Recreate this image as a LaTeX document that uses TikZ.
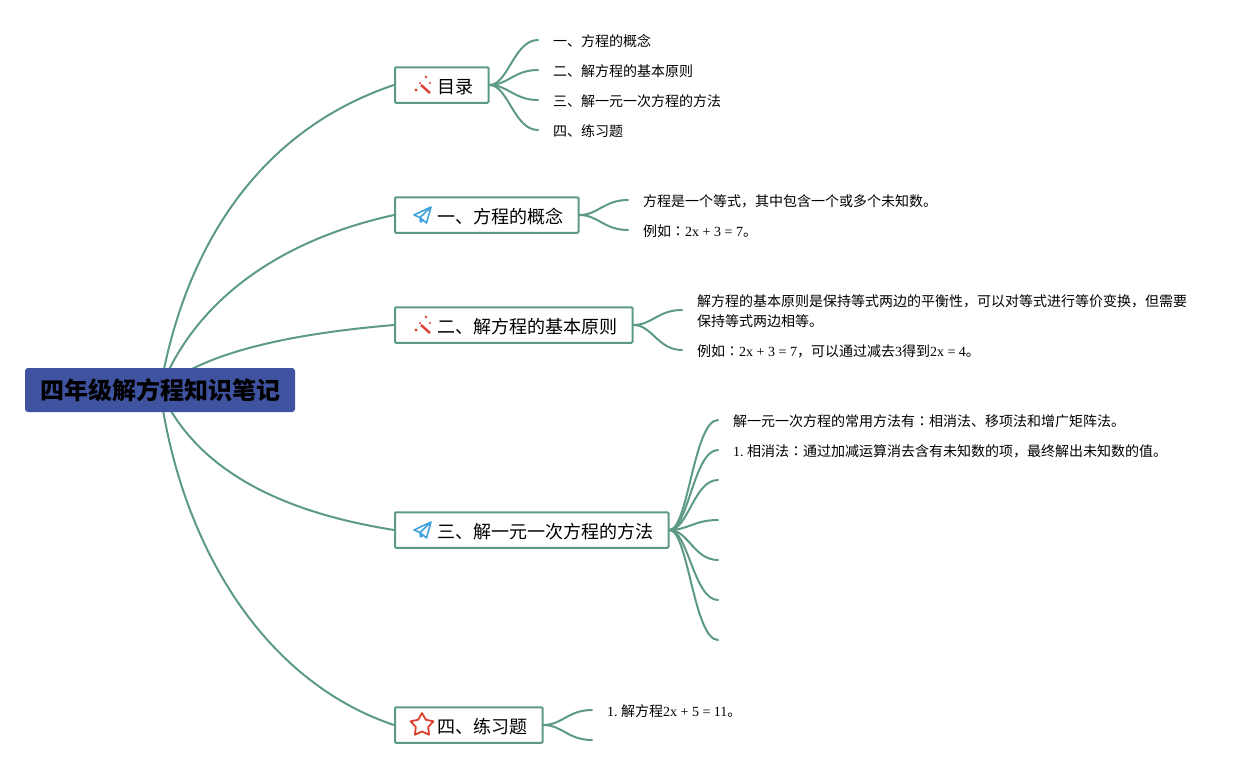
\documentclass[tikz,border=0pt]{standalone}
\usepackage{fontspec}
\setmainfont{Liberation Serif}
\newfontfamily\cjk{Noto Sans CJK SC}
\newfontfamily\cjktc{Noto Sans CJK TC}
\usetikzlibrary{backgrounds}
\definecolor{linegreen}{HTML}{5C9A86}
\definecolor{rootblue}{HTML}{3F53A0}
\definecolor{iconred}{HTML}{DC3E2E}
\definecolor{iconblue}{HTML}{3FA2DC}
\tikzset{
  branchline/.style={linegreen, line width=2pt, line cap=round},
  rootbox/.style={fill=rootblue, rounded corners=3pt, minimum width=270pt, minimum height=44pt, font=\fontsize{24}{24}\cjk\bfseries, inner sep=0pt},
  topicbox/.style={draw=linegreen, fill=white, line width=2pt, rounded corners=1pt, minimum height=35.5pt, anchor=west, inner sep=0pt},
  topictext/.style={font=\fontsize{18}{18}\cjk, anchor=west, inner sep=0pt, text height=14pt, text depth=2pt},
  leaftext/.style={anchor=west, font=\fontsize{14}{20}\selectfont, inner sep=0pt, align=left},
  wandicon/.pic={
    \draw[iconred, line width=2.4pt] (-2,-1) -- (7,7);
    \fill[iconred] (-7,4) circle (1.7pt) (3,-9) circle (1.4pt) (-3,-3) circle (1.2pt) (7,-3) circle (1.2pt);
  },
  planeicon/.pic={
    \draw[iconblue, line width=1.6pt, line join=round] (8,-8) -- (-9,0) -- (-3,2.5) -- (8,-8) -- (3.5,8) -- (-3,2.5) -- (-2.5,7) -- (.5,5);
  },
  staricon/.pic={
    \draw[iconred, line width=1.8pt, line join=round] (0,-12) -- (3.8,-5.3) -- (11.4,-3.7) -- (6.2,2) -- (7.05,9.7) -- (0,6.5) -- (-7.05,9.7) -- (-6.2,2) -- (-11.4,-3.7) -- (-3.8,-5.3) -- cycle;
  },
}
\newcommand{\zh}[1]{{\cjk #1}}
\begin{document}
\begin{tikzpicture}[x=1pt, y=-1pt]
  \useasboundingbox (0,0) rectangle (1257,768);

  % Root and the five topics
  \node[rootbox] (root) at (160,390) {\raisebox{-1.5pt}{四年级解方程知识笔记}};
  \node[topicbox, minimum width=93.5pt] (mulu) at (394,85) {};
  \node[topicbox, minimum width=183.5pt] (gainian) at (394,215) {};
  \node[topicbox, minimum width=237.5pt] (yuanze) at (394,325) {};
  \node[topicbox, minimum width=273.5pt] (fangfa) at (394,530) {};
  \node[topicbox, minimum width=147.5pt] (lianxi) at (394,725) {};

  % Topic titles and their icons
  \node[topictext] (mulutext) at (437,87) {目录};
  \node[topictext] (gainiantext) at (437,217) {一、方程的概念};
  \node[topictext] (yuanzetext) at (437,327) {二、解方程的基本原则};
  \node[topictext] (fangfatext) at (437,532) {三、解一元一次方程的方法};
  \node[topictext] (lianxitext) at (437,727) {四、练习题};
  \pic at (423,86) {wandicon};
  \pic at (423,215) {planeicon};
  \pic at (423,326) {wandicon};
  \pic at (423,530) {planeicon};
  \pic at (422,725) {staricon};

  % Leaf texts
  \node[leaftext] (m1) at (553,41) {\zh{一、方程的概念}};
  \node[leaftext] (m2) at (553,71) {\zh{二、解方程的基本原则}};
  \node[leaftext] (m3) at (553,101) {\zh{三、解一元一次方程的方法}};
  \node[leaftext] (m4) at (553,131) {\zh{四、练习题}};
  \node[leaftext] (g1) at (643,201) {\zh{方程是一个等式，其中包含一个或多个未知数。}};
  \node[leaftext] (g2) at (643,231) {\zh{例如}{\cjktc ：}2x + 3 = 7\zh{。}};
  \node[leaftext] (y1) at (697,311) {\zh{解方程的基本原则是保持等式两边的平衡性，可以对等式进行等价变换，但需要}\\\zh{保持等式两边相等。}};
  \node[leaftext] (y2) at (697,351) {\zh{例如}{\cjktc ：}2x + 3 = 7\zh{，可以通过减去}3\zh{得到}2x = 4\zh{。}};
  \node[leaftext] (f1) at (733,421) {\zh{解一元一次方程的常用方法有}{\cjktc ：}\zh{相消法、移项法和增广矩阵法。}};
  \node[leaftext] (f2) at (733,451) {1.\ \zh{相消法}{\cjktc ：}\zh{通过加减运算消去含有未知数的项，最终解出未知数的值。}};
  \node[leaftext] (l1) at (607,711) {1.\ \zh{解方程}2x + 5 = 11\zh{。}};

  % Free ends of the leaf connectors
  \coordinate (lm1) at (538,40);
  \coordinate (lm2) at (538,70);
  \coordinate (lm3) at (538,100);
  \coordinate (lm4) at (538,130);
  \coordinate (lg1) at (628,200);
  \coordinate (lg2) at (628,230);
  \coordinate (ly1) at (682,310);
  \coordinate (ly2) at (682,350);
  \coordinate (lf1) at (718,420);
  \coordinate (lf2) at (718,450);
  \coordinate (lf3) at (718,480);
  \coordinate (lf4) at (718,520);
  \coordinate (lf5) at (718,560);
  \coordinate (lf6) at (718,600);
  \coordinate (lf7) at (718,640);
  \coordinate (ll1) at (592,710);
  \coordinate (ll2) at (592,740);

  % Connectors
  \begin{pgfonlayer}{background}
    \draw[branchline] (root.center) .. controls (185,245) and (260,130) .. (mulu.west);
    \draw[branchline] (root.center) .. controls (195,300) and (280,240) .. (gainian.west);
    \draw[branchline] (root.center) .. controls (205,350) and (300,333) .. (yuanze.west);
    \draw[branchline] (root.center) .. controls (200,480) and (300,515) .. (fangfa.west);
    \draw[branchline] (root.center) .. controls (180,540) and (260,680) .. (lianxi.west);
  \end{pgfonlayer}
  \foreach \leaf in {lm1,lm2,lm3,lm4}
    \draw[branchline] (mulu.east) .. controls (508,85) and (514,0 |- \leaf) .. (\leaf);
  \foreach \leaf in {lg1,lg2}
    \draw[branchline] (gainian.east) .. controls (598,215) and (604,0 |- \leaf) .. (\leaf);
  \foreach \leaf in {ly1,ly2}
    \draw[branchline] (yuanze.east) .. controls (652,325) and (658,0 |- \leaf) .. (\leaf);
  \foreach \leaf in {lf1,lf2,lf3,lf4,lf5,lf6,lf7}
    \draw[branchline] (fangfa.east) .. controls (688,530) and (694,0 |- \leaf) .. (\leaf);
  \foreach \leaf in {ll1,ll2}
    \draw[branchline] (lianxi.east) .. controls (562,725) and (568,0 |- \leaf) .. (\leaf);
\end{tikzpicture}
\end{document}
